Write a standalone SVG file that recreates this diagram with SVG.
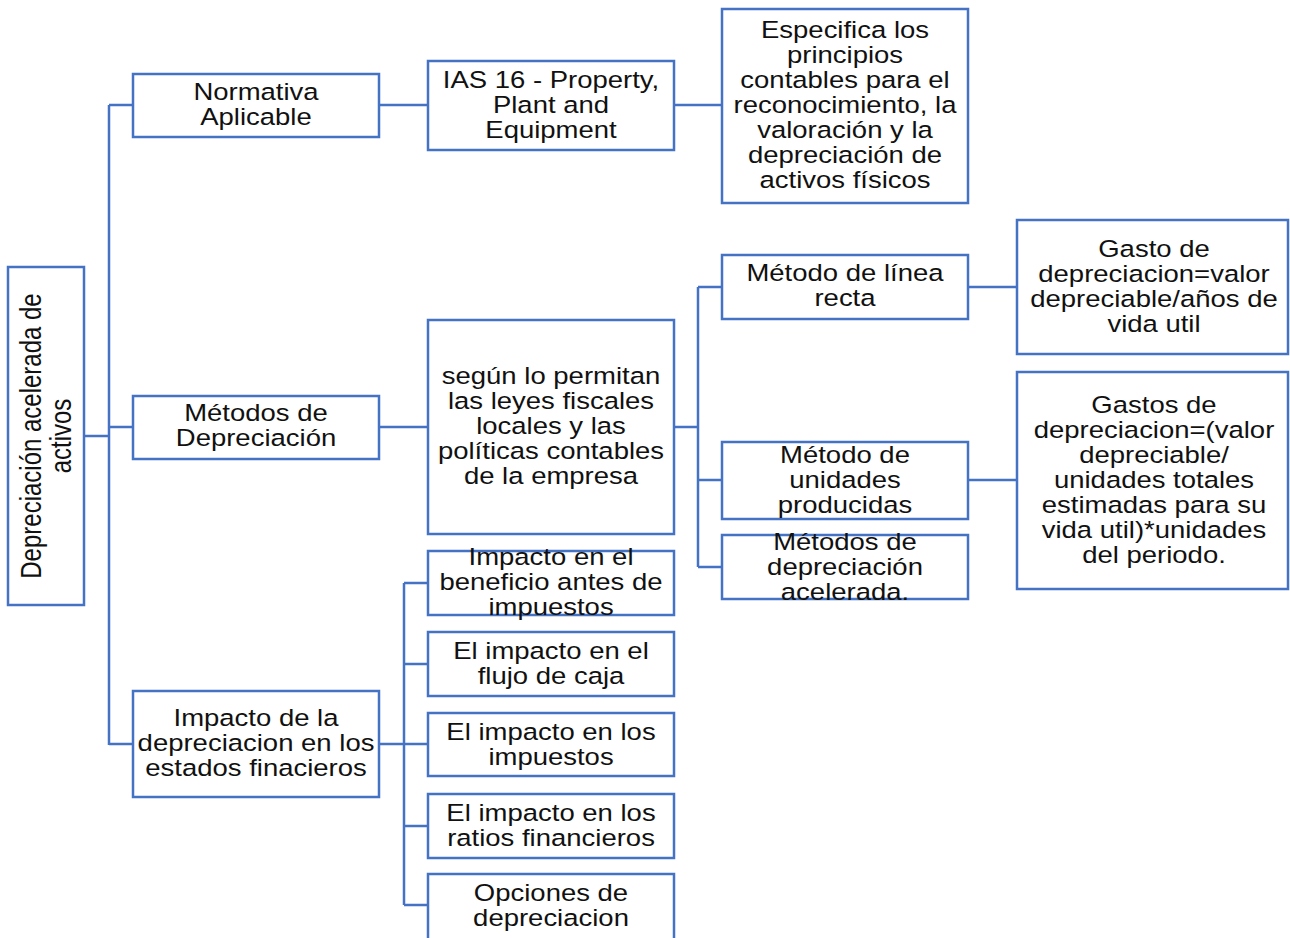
<svg xmlns="http://www.w3.org/2000/svg" width="1290" height="938" viewBox="0 0 1290 938">
<style>
.box{fill:#ffffff;stroke:#4472C4;stroke-width:2.5}
.con{fill:none;stroke:#4472C4;stroke-width:2.5}
.t{font-family:"Liberation Sans",Arial,sans-serif;font-size:23.5px;fill:#111111;text-anchor:middle}
</style>
<rect width="1290" height="938" fill="#ffffff"/>
<g id="connectors">
<path class="con" d="M84,436 H109 M109,105 V745 M109,105 H133 M109,427 H133 M109,744 H133"/>
<path class="con" d="M379,105 H428 M674,105 H722"/>
<path class="con" d="M379,427 H428 M674,427 H698 M698,287 V567 M698,287 H722 M698,480 H722 M698,567 H722"/>
<path class="con" d="M968,287 H1017 M968,480 H1017"/>
<path class="con" d="M379,744 H404 M404,583 V905 M404,583 H428 M404,664 H428 M404,744 H428 M404,826 H428 M404,905 H428"/>
</g>
<g id="root">
<rect class="box" x="8" y="267" width="76" height="338"/>
<text class="t" style="font-size:24px" transform="translate(46,436) scale(1.2,1) rotate(-90)"><tspan x="0" y="-4">Depreciación acelerada de</tspan><tspan x="0" y="21">activos</tspan></text>
</g>
<g id="normativa">
<rect class="box" x="133" y="74" width="246" height="63"/>
<text class="t" transform="translate(256,0) scale(1.17,1)"><tspan x="0" y="100">Normativa</tspan><tspan x="0" y="125">Aplicable</tspan></text>
</g>
<g id="ias16">
<rect class="box" x="428" y="61" width="246" height="89"/>
<text class="t" transform="translate(551,0) scale(1.17,1)"><tspan x="0" y="88">IAS 16 - Property,</tspan><tspan x="0" y="113">Plant and</tspan><tspan x="0" y="138">Equipment</tspan></text>
</g>
<g id="especifica">
<rect class="box" x="722" y="9" width="246" height="194"/>
<text class="t" transform="translate(845,0) scale(1.17,1)"><tspan x="0" y="38">Especifica los</tspan><tspan x="0" y="63">principios</tspan><tspan x="0" y="88">contables para el</tspan><tspan x="0" y="113">reconocimiento, la</tspan><tspan x="0" y="138">valoración y la</tspan><tspan x="0" y="163">depreciación de</tspan><tspan x="0" y="188">activos físicos</tspan></text>
</g>
<g id="metodos">
<rect class="box" x="133" y="396" width="246" height="63"/>
<text class="t" transform="translate(256,0) scale(1.17,1)"><tspan x="0" y="421">Métodos de</tspan><tspan x="0" y="446">Depreciación</tspan></text>
</g>
<g id="segun">
<rect class="box" x="428" y="320" width="246" height="214"/>
<text class="t" transform="translate(551,0) scale(1.17,1)"><tspan x="0" y="384">según lo permitan</tspan><tspan x="0" y="409">las leyes fiscales</tspan><tspan x="0" y="434">locales y las</tspan><tspan x="0" y="459">políticas contables</tspan><tspan x="0" y="484">de la empresa</tspan></text>
</g>
<g id="linea-recta">
<rect class="box" x="722" y="255" width="246" height="64"/>
<text class="t" transform="translate(845,0) scale(1.17,1)"><tspan x="0" y="281">Método de línea</tspan><tspan x="0" y="306">recta</tspan></text>
</g>
<g id="gasto-linea">
<rect class="box" x="1017" y="220" width="271" height="134"/>
<text class="t" transform="translate(1154,0) scale(1.17,1)"><tspan x="0" y="257">Gasto de</tspan><tspan x="0" y="282">depreciacion=valor</tspan><tspan x="0" y="307">depreciable/años de</tspan><tspan x="0" y="332">vida util</tspan></text>
</g>
<g id="unidades">
<rect class="box" x="722" y="442" width="246" height="77"/>
<text class="t" transform="translate(845,0) scale(1.17,1)"><tspan x="0" y="463">Método de</tspan><tspan x="0" y="488">unidades</tspan><tspan x="0" y="513">producidas</tspan></text>
</g>
<g id="gasto-unidades">
<rect class="box" x="1017" y="372" width="271" height="217"/>
<text class="t" transform="translate(1154,0) scale(1.17,1)"><tspan x="0" y="413">Gastos de</tspan><tspan x="0" y="438">depreciacion=(valor</tspan><tspan x="0" y="463">depreciable/</tspan><tspan x="0" y="488">unidades totales</tspan><tspan x="0" y="513">estimadas para su</tspan><tspan x="0" y="538">vida util)*unidades</tspan><tspan x="0" y="563">del periodo.</tspan></text>
</g>
<g id="acelerada">
<rect class="box" x="722" y="535" width="246" height="64"/>
<text class="t" transform="translate(845,0) scale(1.17,1)"><tspan x="0" y="550">Métodos de</tspan><tspan x="0" y="575">depreciación</tspan><tspan x="0" y="600">acelerada.</tspan></text>
</g>
<g id="impacto">
<rect class="box" x="133" y="691" width="246" height="106"/>
<text class="t" transform="translate(256,0) scale(1.17,1)"><tspan x="0" y="726">Impacto de la</tspan><tspan x="0" y="751">depreciacion en los</tspan><tspan x="0" y="776">estados finacieros</tspan></text>
</g>
<g id="beneficio">
<rect class="box" x="428" y="551" width="246" height="64"/>
<text class="t" transform="translate(551,0) scale(1.17,1)"><tspan x="0" y="565">Impacto en el</tspan><tspan x="0" y="590">beneficio antes de</tspan><tspan x="0" y="615">impuestos</tspan></text>
</g>
<g id="flujo">
<rect class="box" x="428" y="632" width="246" height="64"/>
<text class="t" transform="translate(551,0) scale(1.17,1)"><tspan x="0" y="659">El impacto en el</tspan><tspan x="0" y="684">flujo de caja</tspan></text>
</g>
<g id="impuestos">
<rect class="box" x="428" y="713" width="246" height="63"/>
<text class="t" transform="translate(551,0) scale(1.17,1)"><tspan x="0" y="740">El impacto en los</tspan><tspan x="0" y="765">impuestos</tspan></text>
</g>
<g id="ratios">
<rect class="box" x="428" y="794" width="246" height="64"/>
<text class="t" transform="translate(551,0) scale(1.17,1)"><tspan x="0" y="821">El impacto en los</tspan><tspan x="0" y="846">ratios financieros</tspan></text>
</g>
<g id="opciones">
<rect class="box" x="428" y="874" width="246" height="66"/>
<text class="t" transform="translate(551,0) scale(1.17,1)"><tspan x="0" y="901">Opciones de</tspan><tspan x="0" y="926">depreciacion</tspan></text>
</g>
</svg>
